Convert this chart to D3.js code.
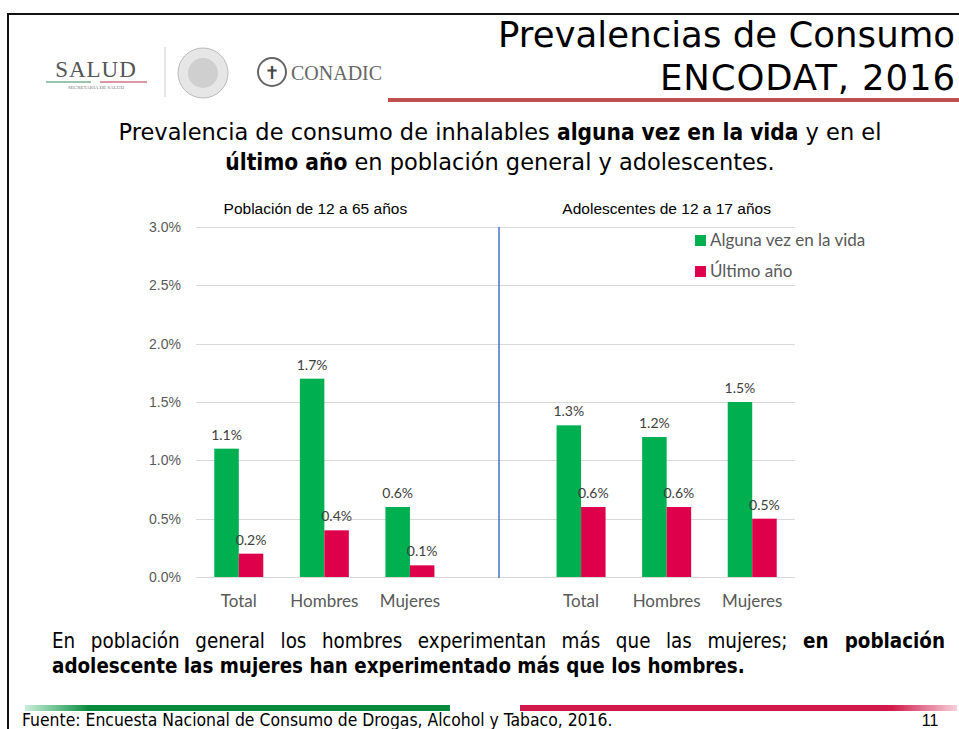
<!DOCTYPE html>
<html>
<head>
<meta charset="utf-8">
<script src="https://cdn.jsdelivr.net/npm/d3@7"></script>
<style>
  html, body { margin: 0; padding: 0; background: #fff; }
  svg { display: block; }
</style>
</head>
<body>
<svg id="chart" width="959" height="729"></svg>
<script>
// DATA
const groups = ["Población de 12 a 65 años", "Adolescentes de 12 a 17 años"];
const categories = ["Total", "Hombres", "Mujeres"];
const series = ["Alguna vez en la vida", "Último año"];
const alguna_vez = [[1.1, 1.7, 0.6], [1.3, 1.2, 1.5]];
const ultimo_anio = [[0.2, 0.4, 0.1], [0.6, 0.6, 0.5]];
const y_ticks = [0, 0.5, 1.0, 1.5, 2.0, 2.5, 3.0];

const colors = ["#00b050", "#de004b"];

const svg = d3.select("#chart");

// slide frame
svg.append("line").attr("x1", 8).attr("x2", 959).attr("y1", 14).attr("y2", 14)
  .attr("stroke", "#111").attr("stroke-width", 2);
svg.append("line").attr("x1", 8).attr("x2", 8).attr("y1", 13).attr("y2", 729)
  .attr("stroke", "#111").attr("stroke-width", 2);
svg.append("rect").attr("x", 388).attr("y", 98).attr("width", 571).attr("height", 4)
  .attr("fill", "#c0504d");

// title
const title = svg.append("text").attr("text-anchor", "end")
  .style("font-family", "DejaVu Sans").style("font-size", "35.5px").attr("fill", "#000");
title.append("tspan").attr("x", 955).attr("y", 47).attr("textLength", 457).text("Prevalencias de Consumo");
title.append("tspan").attr("x", 955).attr("y", 90).attr("textLength", 295).text("ENCODAT, 2016");

// logos (rough)
const logo = svg.append("g");
logo.append("text").attr("x", 96).attr("y", 77).attr("text-anchor", "middle")
  .style("font-family", "Liberation Serif").style("font-size", "23px")
  .attr("fill", "#555").attr("letter-spacing", 1).text("SALUD");
logo.append("line").attr("x1", 46).attr("x2", 91).attr("y1", 82).attr("y2", 82)
  .attr("stroke", "#3a8a5a").attr("stroke-width", 1);
logo.append("line").attr("x1", 100).attr("x2", 147).attr("y1", 82).attr("y2", 82)
  .attr("stroke", "#b0354a").attr("stroke-width", 1);
logo.append("text").attr("x", 96).attr("y", 89).attr("text-anchor", "middle")
  .style("font-family", "Liberation Serif").style("font-size", "5px")
  .attr("fill", "#777").text("SECRETARÍA DE SALUD");
logo.append("line").attr("x1", 165).attr("x2", 165).attr("y1", 47).attr("y2", 97)
  .attr("stroke", "#ddd").attr("stroke-width", 1.5);
logo.append("circle").attr("cx", 203).attr("cy", 73).attr("r", 25)
  .attr("fill", "#e6e6e6").attr("stroke", "#bbb");
logo.append("circle").attr("cx", 203).attr("cy", 73).attr("r", 15)
  .attr("fill", "#cfcfcf");
logo.append("circle").attr("cx", 272).attr("cy", 72).attr("r", 14)
  .attr("fill", "none").attr("stroke", "#666").attr("stroke-width", 2);
logo.append("text").attr("x", 272).attr("y", 79).attr("text-anchor", "middle")
  .style("font-family", "DejaVu Sans").style("font-size", "18px")
  .attr("fill", "#444").text("✝");
logo.append("text").attr("x", 291).attr("y", 80)
  .style("font-family", "Liberation Serif").style("font-size", "20px")
  .attr("fill", "#666").text("CONADIC");

// subtitle
const sub = svg.append("text").attr("text-anchor", "middle")
  .style("font-family", "DejaVu Sans").style("font-size", "22.5px").attr("fill", "#000");
const s1 = sub.append("tspan").attr("x", 500).attr("y", 140);
s1.append("tspan").text("Prevalencia de consumo de inhalables ");
s1.append("tspan").attr("font-weight", "bold").style("font-family", "DejaVu Sans Condensed").text("alguna vez en la vida");
s1.append("tspan").text(" y en el");
const s2 = sub.append("tspan").attr("x", 500).attr("y", 170);
s2.append("tspan").attr("font-weight", "bold").style("font-family", "DejaVu Sans Condensed").text("último año");
s2.append("tspan").text(" en población general y adolescentes.");

// CHART
const y = d3.scaleLinear().domain([0, 3.0]).range([577, 227]);

const slots = [];
groups.forEach((g, gi) => {
  categories.forEach((c, ci) => slots.push(gi + "-" + ci));
  if (gi < groups.length - 1) slots.push("gap");
});
const x = d3.scaleBand().domain(slots).range([196, 795]);
const x_inner = d3.scaleBand().domain(series).range([0, 49]);
const offset = (x.bandwidth() - 49) / 2;

// grid
svg.append("g").selectAll("line").data(y_ticks).join("line")
  .attr("x1", 196).attr("x2", 795)
  .attr("y1", d => Math.round(y(d)) + 0.5).attr("y2", d => Math.round(y(d)) + 0.5)
  .attr("stroke", "#d9d9d9").attr("stroke-width", 1);

// y axis
const y_axis = svg.append("g").attr("transform", "translate(186,0)")
  .call(d3.axisLeft(y).tickValues(y_ticks).tickFormat(d => d.toFixed(1) + "%").tickSize(0));
y_axis.select(".domain").remove();
y_axis.selectAll("text").style("font-family", "Liberation Sans").style("font-size", "14px")
  .attr("fill", "#595959").attr("x", -5);

// x axis
const x_axis = svg.append("g").attr("transform", "translate(0,589)")
  .call(d3.axisBottom(x).tickSize(0).tickFormat(d => d === "gap" ? "" : categories[+d.split("-")[1]]));
x_axis.select(".domain").remove();
x_axis.selectAll("text").style("font-family", "Lato").style("font-size", "17px")
  .attr("fill", "#595959").attr("dy", "0.9em");

// divider
svg.append("line").attr("x1", 499).attr("x2", 499).attr("y1", 227).attr("y2", 578)
  .attr("stroke", "#4472c4").attr("stroke-width", 1.5);

// group titles
svg.append("g").selectAll("text").data(groups).join("text")
  .attr("x", (d, i) => (x(i + "-0") + x(i + "-2") + x.bandwidth()) / 2 - 9 + i * 9)
  .attr("y", 214).attr("text-anchor", "middle")
  .style("font-family", "Liberation Sans").style("font-size", "15.5px")
  .attr("fill", "#000").text(d => d);

// bars
const bar_data = [];
groups.forEach((g, gi) => {
  categories.forEach((c, ci) => {
    bar_data.push({slot: gi + "-" + ci, s: series[0], v: alguna_vez[gi][ci], color: colors[0]});
    bar_data.push({slot: gi + "-" + ci, s: series[1], v: ultimo_anio[gi][ci], color: colors[1]});
  });
});

svg.append("g").selectAll("rect").data(bar_data).join("rect")
  .attr("x", d => x(d.slot) + offset + x_inner(d.s))
  .attr("y", d => y(d.v))
  .attr("width", x_inner.bandwidth())
  .attr("height", d => y(0) - y(d.v))
  .attr("fill", d => d.color);

svg.append("g").selectAll("text").data(bar_data).join("text")
  .attr("x", d => x(d.slot) + offset + x_inner(d.s) + x_inner.bandwidth() / 2)
  .attr("y", d => y(d.v) - 9)
  .attr("text-anchor", "middle")
  .style("font-family", "Lato").style("font-size", "14px")
  .attr("fill", "#404040")
  .text(d => d.v.toFixed(1) + "%");

// legend
const legend = svg.append("g").selectAll("g").data(series).join("g")
  .attr("transform", (d, i) => `translate(695,${235 + i * 31})`);
legend.append("rect").attr("width", 11).attr("height", 11).attr("fill", (d, i) => colors[i]);
legend.append("text").attr("x", 15).attr("y", 11)
  .style("font-family", "Lato").style("font-size", "17px")
  .attr("fill", "#595959").text(d => d);

// bottom note (first line justified with word spacing)
const note_style = t => t.style("font-family", "DejaVu Sans Condensed").style("font-size", "20.4px").attr("fill", "#000");
const n1 = note_style(svg.append("text")).attr("x", 52).attr("y", 648);
const n1a = "En población general los hombres experimentan más que las mujeres; ";
const n1b = "en población";
n1.append("tspan").text(n1a);
n1.append("tspan").attr("font-weight", "bold").text(n1b);
const natural = n1.node().getComputedTextLength();
const spaces = (n1a + n1b).split(" ").length - 1;
n1.style("word-spacing", ((945 - 52 - natural) / spaces) + "px");
note_style(svg.append("text")).attr("x", 52).attr("y", 673).attr("font-weight", "bold")
  .text("adolescente las mujeres han experimentado más que los hombres.");

// footer
const grad = svg.append("defs");
const gg = grad.append("linearGradient").attr("id", "gg");
gg.append("stop").attr("offset", "0").attr("stop-color", "#00a14b").attr("stop-opacity", 0.2);
gg.append("stop").attr("offset", "0.15").attr("stop-color", "#0a8a3e");
gg.append("stop").attr("offset", "1").attr("stop-color", "#0a8a3e");
const rg = grad.append("linearGradient").attr("id", "rg");
rg.append("stop").attr("offset", "0").attr("stop-color", "#d11a4a");
rg.append("stop").attr("offset", "0.85").attr("stop-color", "#d11a4a");
rg.append("stop").attr("offset", "1").attr("stop-color", "#d11a4a").attr("stop-opacity", 0.2);
svg.append("rect").attr("x", 25).attr("y", 705).attr("width", 425).attr("height", 6).attr("fill", "url(#gg)");
svg.append("rect").attr("x", 520).attr("y", 705).attr("width", 437).attr("height", 6).attr("fill", "url(#rg)");

svg.append("text").attr("x", 22).attr("y", 726)
  .style("font-family", "DejaVu Sans Condensed").style("font-size", "17.4px")
  .attr("fill", "#000").text("Fuente: Encuesta Nacional de Consumo de Drogas, Alcohol y Tabaco,  2016.");
svg.append("text").attr("x", 930).attr("y", 726).attr("text-anchor", "middle")
  .style("font-family", "Liberation Sans").style("font-size", "16px")
  .attr("fill", "#000").text("11");
</script>
</body>
</html>
